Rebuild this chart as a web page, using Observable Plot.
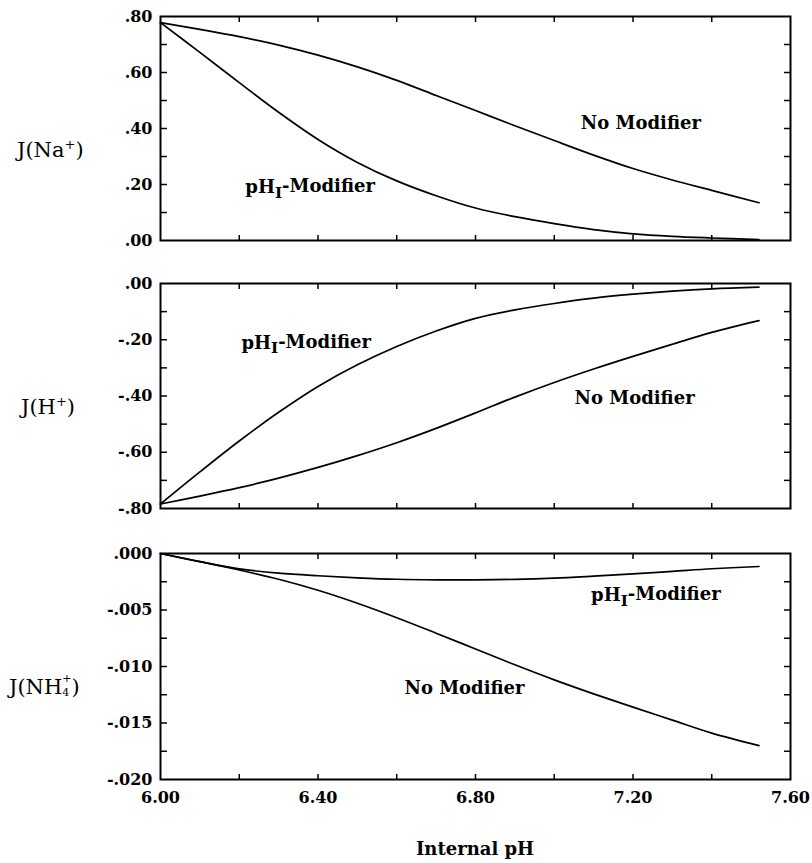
<!DOCTYPE html>
<html>
<head>
<meta charset="utf-8">
<script src="https://cdn.jsdelivr.net/npm/d3@7"></script>
<script src="https://cdn.jsdelivr.net/npm/@observablehq/plot@0.6"></script>
<style>
  body { margin: 0; background: #fff; }
  #chart { position: relative; width: 812px; height: 863px; background: #fff; font-family: "DejaVu Serif", serif; color: #000; }
  .panel { position: absolute; left: 0; }
  .ylab { position: absolute; font-size: 21px; font-weight: normal; white-space: nowrap; line-height: 24px; height: 24px; }
  .ylab sup { font-size: 13px; vertical-align: 8px; line-height: 0; }
  .stack { display: inline-block; vertical-align: middle; font-size: 11px; text-align: left; margin-top: -5px; }
  .stack span { display: block; height: 14px; line-height: 14px; }
  #xlab { position: absolute; top: 838px; left: 160px; width: 630px; text-align: center; font-size: 18px; font-weight: bold; }
</style>
</head>
<body>
<div id="chart"></div>
<script>
// ---- Data ----
const pH = [6.0, 6.1, 6.2, 6.3, 6.4, 6.5, 6.6, 6.7, 6.8, 6.9, 7.0, 7.1, 7.2, 7.3, 7.4, 7.52];

// J(Na+)
const naNoModifier  = [0.778, 0.754, 0.728, 0.698, 0.662, 0.620, 0.572, 0.518, 0.464, 0.410, 0.357, 0.305, 0.257, 0.216, 0.179, 0.135];
const naPhIModifier = [0.778, 0.672, 0.564, 0.458, 0.361, 0.279, 0.213, 0.160, 0.116, 0.085, 0.060, 0.039, 0.024, 0.015, 0.009, 0.003];

// J(H+)
const hNoModifier  = [-0.784, -0.756, -0.726, -0.692, -0.654, -0.612, -0.566, -0.515, -0.460, -0.404, -0.352, -0.304, -0.259, -0.216, -0.174, -0.132];
const hPhIModifier = [-0.784, -0.670, -0.560, -0.458, -0.366, -0.289, -0.224, -0.169, -0.124, -0.094, -0.071, -0.052, -0.038, -0.027, -0.019, -0.013];

// J(NH4+)
const nh4NoModifier  = [0, -0.00072, -0.00146, -0.00228, -0.00325, -0.00440, -0.00568, -0.00705, -0.00845, -0.00985, -0.01118, -0.01242, -0.01360, -0.01475, -0.01590, -0.0170];
const nh4PhIModifier = [0, -0.00072, -0.00136, -0.00174, -0.00197, -0.00215, -0.00228, -0.00233, -0.00233, -0.00229, -0.00218, -0.00200, -0.00180, -0.00158, -0.00135, -0.00115];

// Tick values
const xTicks = [6.2, 6.4, 6.6, 6.8, 7.0, 7.2, 7.4];
const xTickLabels = [6.0, 6.4, 6.8, 7.2, 7.6];
const naMajor = [0, 0.2, 0.4, 0.6, 0.8];
const naMinor = [0.1, 0.2, 0.3, 0.4, 0.5, 0.6, 0.7];
const hMajor = [-0.8, -0.6, -0.4, -0.2, 0];
const hMinor = [-0.7, -0.6, -0.5, -0.4, -0.3, -0.2, -0.1];
const nh4Major = [-0.02, -0.015, -0.01, -0.005, 0];
const nh4Minor = [-0.0175, -0.015, -0.0125, -0.01, -0.0075, -0.005, -0.0025];

const SUB_LABEL = "pHI-Modifier";
const NO_LABEL = "No Modifier";

// ---- helpers ----
const rows = (ys) => pH.map((p, i) => ({pH: p, v: ys[i]}));
const fmtDot = (digits) => (d) =>
  (d < -1e-12 ? "-" : "") + d3.format(`.${digits}f`)(Math.abs(d)).replace(/^0\./, ".");
const tickLen = 6;

function edgeTicks(minor) {
  const common = {tickSize: tickLen, tickFormat: () => "", fontSize: 0, label: null, stroke: "black", strokeWidth: 1.5};
  return [
    Plot.axisY(minor, {...common, anchor: "right", frameAnchor: "left"}),   // inward ticks on left edge
    Plot.axisY(minor, {...common, anchor: "left", frameAnchor: "right"}),   // inward ticks on right edge
    Plot.axisX(xTicks, {...common, anchor: "bottom", frameAnchor: "top"}),  // inward ticks on top edge
    Plot.axisX(xTicks, {...common, anchor: "top", frameAnchor: "bottom"})   // inward ticks on bottom edge
  ];
}

function makePanel({top, height, marginTop, marginBottom, domain, major, minor, digits, noMod, phI, labels, showX}) {
  const marks = [
    Plot.line(rows(noMod), {x: "pH", y: "v", curve: "catmull-rom", stroke: "black", strokeWidth: 1.7}),
    Plot.line(rows(phI), {x: "pH", y: "v", curve: "catmull-rom", stroke: "black", strokeWidth: 1.7}),
    ...edgeTicks(minor),
    Plot.frame({stroke: "black", strokeWidth: 2}),
    Plot.axisY(major, {anchor: "left", tickSize: 0, tickPadding: 8, tickFormat: fmtDot(digits), label: null, fontSize: 16, fontWeight: "bold"}),
    Plot.text(labels, {x: "x", y: "y", text: "t", fontSize: 18, fontWeight: "bold", fill: "black", textAnchor: "middle"})
  ];
  if (showX) {
    marks.push(Plot.axisX(xTickLabels, {anchor: "bottom", tickSize: 0, tickPadding: 12, tickFormat: d3.format(".2f"), label: null, fontSize: 16, fontWeight: "bold"}));
  }
  const svg = Plot.plot({
    width: 812, height,
    marginLeft: 160, marginRight: 22, marginTop, marginBottom,
    x: {domain: [6.0, 7.6], axis: null},
    y: {domain, axis: null},
    style: {fontFamily: "DejaVu Serif, serif", color: "black", background: "white", overflow: "visible"},
    marks
  });
  // remove empty tick texts left by the tick-only axes
  d3.select(svg).selectAll("text").filter(function () { return this.textContent === ""; }).remove();
  // subscript I in pH_I
  d3.select(svg).selectAll("text").each(function () {
    if (this.textContent === SUB_LABEL) {
      const t = d3.select(this);
      t.text(null);
      t.append("tspan").text("pH");
      t.append("tspan").attr("dy", "0.3em").attr("font-size", "0.85em").text("I");
      t.append("tspan").attr("dy", "-0.3em").text("-Modifier");
    }
  });
  svg.classList.add("panel");
  svg.style.top = top + "px";
  return svg;
}

const chart = document.getElementById("chart");

chart.appendChild(makePanel({
  top: 0, height: 250, marginTop: 16, marginBottom: 10,
  domain: [0, 0.8], major: naMajor, minor: naMinor, digits: 2,
  noMod: naNoModifier, phI: naPhIModifier,
  labels: [{x: 7.22, y: 0.418, t: NO_LABEL}, {x: 6.38, y: 0.19, t: SUB_LABEL}],
  showX: false
}));

chart.appendChild(makePanel({
  top: 250, height: 270, marginTop: 33, marginBottom: 12,
  domain: [-0.8, 0], major: hMajor, minor: hMinor, digits: 2,
  noMod: hNoModifier, phI: hPhIModifier,
  labels: [{x: 6.37, y: -0.211, t: SUB_LABEL}, {x: 7.204, y: -0.408, t: NO_LABEL}],
  showX: false
}));

chart.appendChild(makePanel({
  top: 520, height: 343, marginTop: 33, marginBottom: 84,
  domain: [-0.02, 0], major: nh4Major, minor: nh4Minor, digits: 3,
  noMod: nh4NoModifier, phI: nh4PhIModifier,
  labels: [{x: 7.258, y: -0.0037, t: SUB_LABEL}, {x: 6.772, y: -0.01195, t: NO_LABEL}],
  showX: true
}));

// y-axis titles
function addLabel(html, left, top) {
  const d = document.createElement("div");
  d.className = "ylab";
  d.style.left = left + "px";
  d.style.top = top + "px";
  d.innerHTML = html;
  chart.appendChild(d);
}
addLabel("J(Na<sup>+</sup>)", 17, 138);
addLabel("J(H<sup>+</sup>)", 21, 395);
addLabel('J(NH<span class="stack"><span>+</span><span>4</span></span>)', 9, 675);

const xl = document.createElement("div");
xl.id = "xlab";
xl.textContent = "Internal pH";
chart.appendChild(xl);
</script>
</body>
</html>
